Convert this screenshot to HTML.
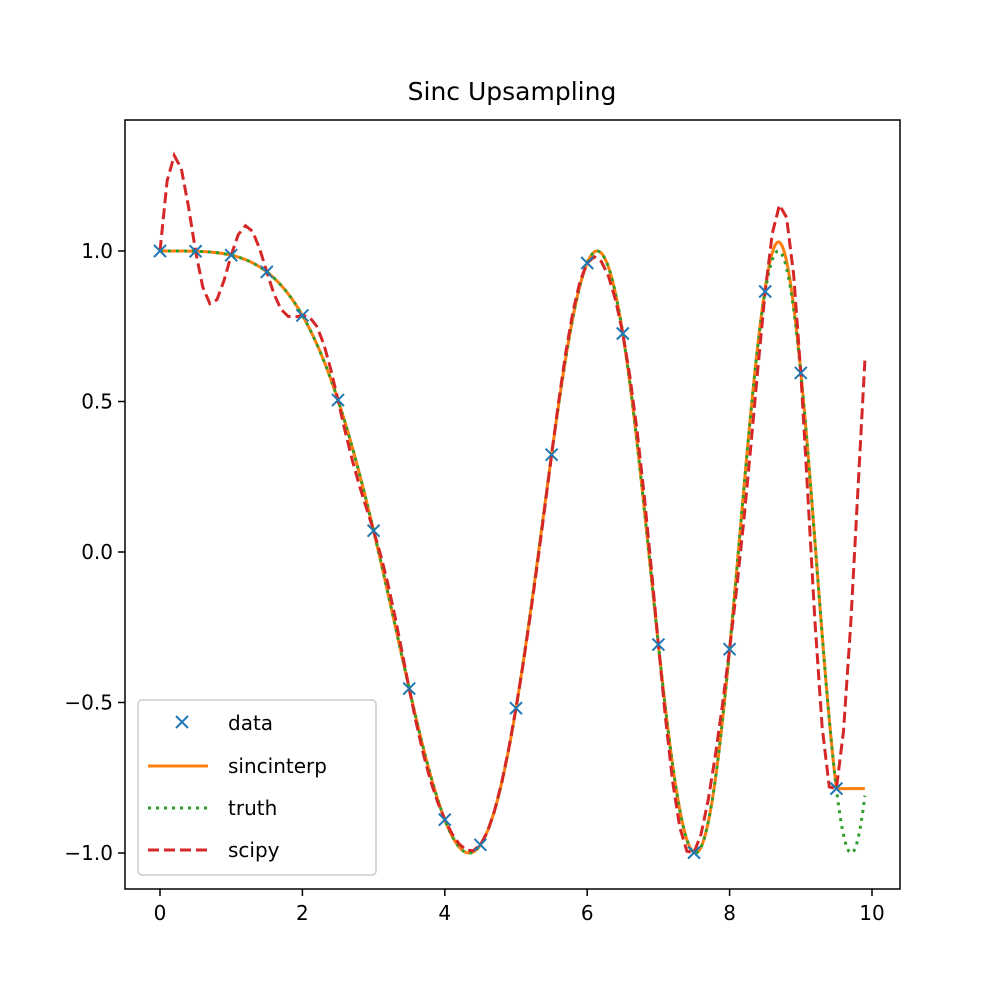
<!DOCTYPE html>
<html><head><meta charset="utf-8"><style>
html,body{margin:0;padding:0;background:#fff;}
text{font-family:"DejaVu Sans","Liberation Sans",sans-serif;fill:#000;}
</style></head><body>
<svg id="s" width="1000" height="1000" xmlns="http://www.w3.org/2000/svg">
<rect width="1000" height="1000" fill="#fff"/>
<text x="512" y="100" font-size="25" text-anchor="middle">Sinc Upsampling</text>
<defs><clipPath id="c"><rect x="125" y="120" width="775" height="769"/></clipPath></defs>
<g id="plot" clip-path="url(#c)"></g>
<rect x="125" y="120" width="775" height="769" fill="none" stroke="#000" stroke-width="1.5"/>
<g id="ticks" font-size="20"></g>
<g>
<rect x="138" y="700" width="238" height="175" rx="4" fill="#fff" fill-opacity="0.8" stroke="#ccc" stroke-width="1.5"/>
<path d="M176,716 l12,12 M176,728 l12,-12" stroke="#1f77b4" stroke-width="2"/>
<text x="228" y="730" font-size="20">data</text>
<line x1="148" y1="766" x2="208" y2="766" stroke="#ff7f0e" stroke-width="3"/>
<text x="228" y="773" font-size="20">sincinterp</text>
<line x1="148" y1="808" x2="208" y2="808" stroke="#2ca02c" stroke-width="3" stroke-dasharray="3,5"/>
<text x="228" y="815" font-size="20">truth</text>
<line x1="148" y1="850" x2="208" y2="850" stroke="#d62728" stroke-width="3" stroke-dasharray="11,5"/>
<text x="228" y="857" font-size="20">scipy</text>
</g>
</svg>
<script>
var X=function(x){return 160+71.2*x},Y=function(y){return 552-301*y};
var N=20,xs=[],ys=[];for(var n=0;n<N;n++){xs.push(n*0.5);ys.push(Math.cos(n*n*0.25/6));}
var M=100,g=[];for(var m=0;m<M;m++)g.push(m*0.1);
var gf=[];for(var m=0;m<=990;m++)gf.push(m*0.01);
function path(pts){return pts.map(function(p,i){return (i?'L':'M')+X(p[0]).toFixed(2)+','+Y(p[1]).toFixed(2)}).join('');}
var truth=gf.map(function(x){return [x,Math.cos(x*x/6)]});
var si=gf.map(function(x){if(x>9.5)return [x,ys[19]];var v=Math.cos(x*x/6);v+=0.03*Math.exp(-Math.pow((x-8.7)/0.2,2));return [x,v];});
var Re=[],Im=[];for(var k=0;k<=10;k++){var r=0,im=0;for(var n=0;n<N;n++){r+=ys[n]*Math.cos(2*Math.PI*k*n/N);im-=ys[n]*Math.sin(2*Math.PI*k*n/N);}Re.push(r);Im.push(im);}
var sc=g.map(function(x){var t=x/0.5;var s=Re[0];for(var k=1;k<10;k++){s+=2*(Re[k]*Math.cos(2*Math.PI*k*t/N)-Im[k]*Math.sin(2*Math.PI*k*t/N));}s+=Re[10]*Math.cos(Math.PI*t);return [x,s/N];});
var h='';
h+='<path d="'+path(si)+'" fill="none" stroke="#ff7f0e" stroke-width="3"/>';
h+='<path d="'+path(truth)+'" fill="none" stroke="#2ca02c" stroke-width="3" stroke-dasharray="3,5"/>';
h+='<path d="'+path(sc)+'" fill="none" stroke="#d62728" stroke-width="3" stroke-dasharray="11,5"/>';
for(var n=0;n<N;n++){var px=X(xs[n]),py=Y(ys[n]);h+='<path d="M'+(px-6)+','+(py-6)+'l12,12M'+(px-6)+','+(py+6)+'l12,-12" stroke="#1f77b4" stroke-width="2"/>';}
document.getElementById('plot').innerHTML=h;
var t='';
for(var v=0;v<=10;v+=2){var px=X(v);t+='<line x1="'+px+'" y1="889" x2="'+px+'" y2="896" stroke="#000" stroke-width="1.5"/><text x="'+px+'" y="920" text-anchor="middle">'+v+'</text>';}
[1,0.5,0,-0.5,-1].forEach(function(v){var py=Y(v);var s=(v<0?'\u2212':'')+Math.abs(v).toFixed(1);t+='<line x1="118" y1="'+py+'" x2="125" y2="'+py+'" stroke="#000" stroke-width="1.5"/><text x="113" y="'+(py+7)+'" text-anchor="end">'+s+'</text>';});
document.getElementById('ticks').innerHTML=t;
</script>
</body></html>
